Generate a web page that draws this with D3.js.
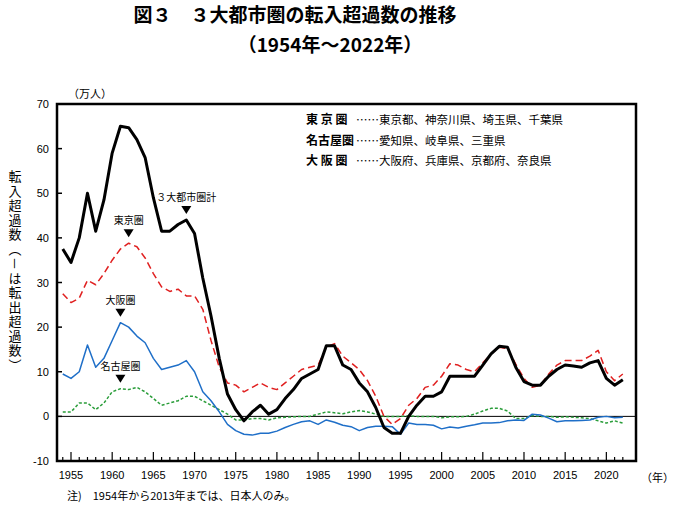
<!DOCTYPE html>
<html><head><meta charset="utf-8">
<script src="https://cdn.jsdelivr.net/npm/d3@7.9.0/dist/d3.min.js"></script>
<style>body{margin:0;background:#fff;font-family:"Noto Sans CJK JP",sans-serif}</style>
</head><body><svg id="chart" width="680" height="516"></svg>
<script>
const years = d3.range(1954, 2023);
const total = [37.5,34.5,40,50,41.5,48.5,59,65,64.7,62,58,49,41.5,41.5,43,44,41,31,22.5,13,5,1.5,-1,1,2.5,0.5,1.5,4,6,8.5,9.5,10.5,15.8,15.8,11.5,10.5,7.5,5.5,2,-2.5,-3.8,-3.8,0,2.5,4.5,4.5,5.5,9,9,9,9,11.5,14,15.7,15.5,11,7.8,7,7,9,10.5,11.5,11.3,11,12,12.5,8.5,7,8.2];
const tokyo = [27.5,25.5,26.5,30.5,29.5,32,35,37.5,38.8,38,35.5,32,29,28,28.5,27,27,24,17,11,7.5,7,5.5,6.5,7.5,6.5,6,7.5,9,10.5,11,11.5,15.5,16.3,13.5,12,10.5,8,4.5,0,-1.8,-0.5,2.5,4,6.5,7,9,11.8,11.5,10.5,10,12,14,15.5,15.2,11.7,8.5,6.5,7,9.5,11.5,12.5,12.5,12.5,13.5,14.8,10,8,9.5];
const osaka = [9.5,8.5,10,16,11,13,17,21,20,18,16.5,13,10.5,11,11.5,12.5,10,5.5,3.5,1,-1.8,-3.2,-4,-4.2,-3.8,-3.8,-3.3,-2.5,-1.8,-1.2,-1,-1.8,-0.8,-1.3,-2,-2.3,-3.2,-2.5,-2.2,-2.2,-2.3,-4,-1.5,-1.8,-1.8,-2,-2.8,-2.4,-2.6,-2.2,-1.9,-1.5,-1.5,-1.4,-1,-0.8,-0.9,0.5,0.3,-0.4,-1.2,-1,-1,-0.9,-0.8,-0.2,0,-0.3,-0.2];
const nagoya = [1,1,3,3,1.5,3,5.5,6.2,6,6.5,5.5,4,2.5,3,3.5,4.5,4.5,3.5,2.5,1.5,0.5,-0.8,-0.8,-0.5,-0.5,-0.8,-0.3,-0.2,-0.1,0,0,0.5,1,0.8,0.6,1,1.3,1,0.5,0,0,0,0.1,0,0,0,-0.3,-0.1,-0.1,0,0.5,1.2,1.8,1.8,1.2,-0.5,-0.5,0.2,0,0,-0.2,-0.1,-0.2,-0.3,-0.5,-1,-1.5,-1,-1.5];
const yTicks = d3.range(-10, 71, 10);
const xTicks = d3.range(1955, 2021, 5);
const legendRows = [["東 京 圏","……東京都、神奈川県、埼玉県、千葉県"],["名古屋圏","……愛知県、岐阜県、三重県"],["大 阪 圏","……大阪府、兵庫県、京都府、奈良県"]];
const labels = [
  {name:"３大都市圏計", year:1969, v:44},
  {name:"東京圏", year:1962, v:38.8},
  {name:"大阪圏", year:1961, v:21},
  {name:"名古屋圏", year:1961, v:6.2}
];

const svg = d3.select('#chart');
const L = 57, R = 636, T = 104, B = 461;
const x = d3.scaleLinear().domain([1953.3, 2023.6]).range([L, R]);
const y = d3.scaleLinear().domain([-10, 70]).range([B, T]);

svg.append('text').attr('x', 295).attr('y', 22).attr('text-anchor', 'middle')
  .attr('font-size', 19).attr('font-weight', 'bold').text('図３　３大都市圏の転入超過数の推移');
svg.append('text').attr('x', 330).attr('y', 52).attr('text-anchor', 'middle')
  .attr('font-size', 19).attr('font-weight', 'bold').text('（1954年～2022年）');
svg.append('text').attr('x', 68).attr('y', 98).attr('font-size', 11).text('（万人）');

// vertical y label
svg.append('text').attr('x', 15).attr('y', 170)
  .style('writing-mode', 'vertical-rl').attr('font-size', 13).attr('letter-spacing', 1.5)
  .text('転入超過数（－は転出超過数）');

// ticks
svg.append('g').selectAll('line').data(yTicks).join('line')
  .attr('x1', L).attr('x2', L + 5).attr('y1', d => y(d)).attr('y2', d => y(d))
  .attr('stroke', '#000').attr('stroke-width', 1.5);
svg.append('g').selectAll('text').data(yTicks).join('text')
  .attr('x', L - 8).attr('y', d => y(d) + 4).attr('text-anchor', 'end').attr('font-size', 11)
  .attr('font-family', 'Liberation Sans, Arial').text(d => d);
svg.append('g').selectAll('line').data(years).join('line')
  .attr('x1', d => x(d)).attr('x2', d => x(d)).attr('y1', B).attr('y2', d => B - (d % 5 === 0 ? 9 : 4))
  .attr('stroke', '#000').attr('stroke-width', 1.2);
svg.append('g').selectAll('text').data(xTicks).join('text')
  .attr('x', d => x(d)).attr('y', B + 18).attr('text-anchor', 'middle').attr('font-size', 11)
  .attr('font-family', 'Liberation Sans, Arial').text(d => d);
svg.append('text').attr('x', 641).attr('y', 482).attr('font-size', 11).text('（年）');

// zero line
svg.append('line').attr('x1', L).attr('x2', R).attr('y1', y(0)).attr('y2', y(0)).attr('stroke', '#000').attr('stroke-width', 1);

const line = d3.line().x((d, i) => x(years[i])).y(d => y(d));
const series = [
  {d: nagoya, c: '#2a9d3a', w: 1.5, dash: '3,2'},
  {d: osaka, c: '#1f6fc8', w: 1.5, dash: null},
  {d: tokyo, c: '#e02020', w: 1.5, dash: '7,4'},
  {d: total, c: '#000', w: 3, dash: null}
];
svg.append('g').selectAll('path').data(series).join('path')
  .attr('d', s => line(s.d)).attr('fill', 'none').attr('stroke', s => s.c)
  .attr('stroke-width', s => s.w).attr('stroke-dasharray', s => s.dash).attr('stroke-linejoin', 'round');

// frame
svg.append('rect').attr('x', L).attr('y', T).attr('width', R - L).attr('height', B - T)
  .attr('fill', 'none').attr('stroke', '#000').attr('stroke-width', 2.5);

// series labels with arrows
const lg = svg.append('g').selectAll('g').data(labels).join('g')
  .attr('transform', d => `translate(${x(d.year)},${y(d.v) - 6})`);
lg.append('path').attr('d', 'M-5,-8L5,-8L0,0Z').attr('fill', '#000');
lg.append('text').attr('y', -13).attr('text-anchor', 'middle').attr('font-size', 10).text(d => d.name);

// legend
const lb = svg.append('g');
legendRows.forEach((r, i) => {
  lb.append('text').attr('x', 306).attr('y', 124 + i * 20.5).attr('font-size', 12).attr('font-weight', 'bold').text(r[0]);
  lb.append('text').attr('x', 356).attr('y', 124 + i * 20.5).attr('font-size', 11.5).text(r[1]);
});

svg.append('text').attr('x', 67).attr('y', 500).attr('font-size', 11).text('注)　1954年から2013年までは、日本人のみ。');
</script></body></html>
